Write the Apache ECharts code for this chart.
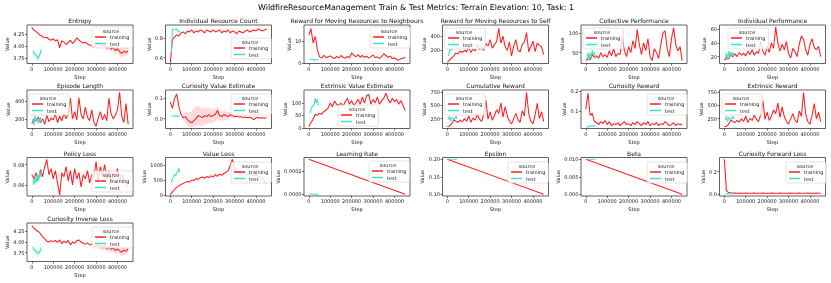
<!DOCTYPE html>
<html><head><meta charset="utf-8">
<script src="https://cdn.jsdelivr.net/npm/echarts@6/dist/echarts.min.js"></script>
<style>html,body{margin:0;padding:0;background:#fff}#c{width:831px;height:283px}#c svg{will-change:transform}</style>
</head><body><div id="c"></div>
<script>
// ---------- DATA ----------
const trainSteps = [0,10000,20000,30000,40000,50000,60000,70000,80000,90000,100000,110000,120000,130000,140000,150000,160000,170000,180000,190000,200000,210000,220000,230000,240000,250000,260000,270000,280000,290000,300000,310000,320000,330000,340000,350000,360000,370000,380000,390000,400000,410000,420000,430000,440000,450000];
const testSteps = [5000,10000,15000,20000,25000,30000,35000,40000,45000];
const scheduleSteps = [0,450000];

const entropyTrain = [4.39,4.33,4.30,4.26,4.22,4.20,4.17,4.18,4.14,4.12,4.15,4.10,4.13,3.96,4.11,4.08,4.03,4.07,4.12,4.05,4.10,4.17,4.12,4.09,4.06,4.08,4.04,4.02,4.00,3.97,4.04,4.06,4.02,3.99,4.01,3.95,3.98,3.93,3.97,3.90,3.94,3.88,3.84,3.89,3.86,3.90];
const entropyTest = [3.90,3.85,3.82,3.80,3.78,3.74,3.79,3.85,3.93];
const entropyBandSteps = [340000,350000,360000,370000,380000,390000,400000,410000,420000,430000,440000,450000];
const entropyBandLow = [3.98,3.91,3.93,3.87,3.90,3.82,3.86,3.79,3.75,3.80,3.77,3.83];
const entropyBandHigh = [4.04,3.99,4.03,3.99,4.04,3.98,4.02,3.97,3.94,3.98,3.95,3.97];
const entropyTestLow = [3.84,3.78,3.75,3.72,3.70,3.66,3.72,3.79,3.89];
const entropyTestHigh = [3.96,3.92,3.89,3.87,3.85,3.82,3.86,3.91,3.97];

const resourceCountTrain = [0.55,0.78,0.81,0.83,0.82,0.85,0.86,0.84,0.87,0.86,0.88,0.85,0.87,0.86,0.88,0.87,0.85,0.88,0.87,0.86,0.88,0.86,0.87,0.88,0.85,0.87,0.86,0.88,0.85,0.87,0.86,0.84,0.87,0.86,0.85,0.87,0.88,0.86,0.87,0.88,0.87,0.89,0.88,0.87,0.88,0.89];
const resourceCountTest = [0.66,0.89,0.89,0.89,0.88,0.89,0.87,0.86,0.87];

const neighboursTrain = [12.5,15.5,9.0,12.0,6.0,2.8,2.2,3.5,2.4,2.8,3.2,2.5,2.0,3.0,2.2,3.4,2.6,2.1,3.0,2.4,4.6,3.5,2.8,3.8,2.6,3.4,2.5,3.1,2.2,2.9,3.6,2.4,2.8,2.1,3.0,4.2,3.4,2.6,3.1,2.0,2.4,1.6,1.3,1.9,2.2,2.6];
const neighboursTest = [2.0,1.6,1.5,1.7,1.3,1.5,1.4,1.6,1.5];

const selfTrain = [30,60,90,120,160,150,190,170,200,180,250,170,220,190,280,210,240,200,300,260,350,230,280,320,510,300,400,250,200,320,120,260,350,200,180,280,320,450,180,250,330,180,300,270,250,140];
const selfTest = [120,180,240,200,250,440,230,260,220];

const collectiveTrain = [30,35,32,45,38,42,36,50,40,45,38,55,42,60,40,48,45,90,55,40,65,50,80,60,108,70,45,75,55,85,40,30,60,50,35,70,100,105,60,40,85,113,70,55,65,30];
const collectiveTest = [35,50,30,50,40,55,45,50,35];

const individualTrain = [15,18,17,22,20,24,20,26,22,25,21,28,23,30,22,27,25,42,28,22,35,26,40,32,63,40,28,38,30,42,24,18,32,27,20,38,50,45,30,22,38,46,33,30,35,20];
const individualTest = [18,25,15,28,20,27,22,26,20];

const episodeTrain = [150,200,180,220,160,200,140,240,170,210,190,250,160,230,180,260,200,260,430,200,280,190,435,250,200,330,220,180,300,160,120,210,280,190,250,180,430,260,200,240,300,495,230,160,370,140];
const episodeTest = [200,130,240,170,200,150,190,220,160];

const curValueTrain = [0.08,0.05,0.10,0.12,0.06,0.02,0.005,0.01,-0.005,-0.015,-0.02,-0.01,0.0,0.015,0.01,0.005,0.015,0.01,0.02,0.01,0.015,0.02,0.04,0.015,0.01,0.02,0.015,0.01,0.02,0.015,0.01,0.012,0.008,0.01,0.006,0.008,0.005,0.007,0.003,-0.005,0.004,0.006,0.002,0.005,0.003,0.004];
const curValueTest = [0.012,0.013,0.015,0.012,0.010,0.014,0.011,0.013,0.012];
const curValueBandSteps = [60000,70000,80000,90000,100000,110000,120000,130000,140000,150000,160000,170000,180000,190000,200000,210000,220000,230000,240000,250000,260000,270000,280000,290000,300000];
const curValueBandLow = [-0.01,-0.015,-0.035,-0.045,-0.04,-0.035,-0.04,-0.03,-0.035,-0.04,-0.03,-0.03,-0.02,-0.025,-0.02,-0.015,0.0,-0.01,-0.015,-0.005,-0.005,-0.01,0.005,0.005,0.005];
const curValueBandHigh = [0.02,0.035,0.03,0.03,0.035,0.05,0.06,0.065,0.055,0.05,0.06,0.05,0.055,0.045,0.05,0.05,0.06,0.04,0.035,0.04,0.035,0.03,0.035,0.025,0.015];

const extValueTrain = [5,20,35,55,50,58,55,65,72,80,100,85,108,95,90,100,88,105,120,95,110,90,100,115,95,125,100,130,135,95,115,100,125,95,110,120,140,115,100,120,105,115,95,110,90,70];
const extValueTest = [60,75,85,90,95,120,100,115,90];

const cumRewardTrain = [100,110,150,230,200,180,220,190,250,200,300,180,260,220,330,240,200,330,600,240,380,220,300,420,350,550,280,480,300,200,150,250,350,230,180,400,300,750,350,200,150,320,540,250,380,200];
const cumRewardTest = [230,300,200,280,250,240,260,300,240];

const curRewardTrain = [0.11,0.19,0.08,0.09,0.05,0.045,0.035,0.05,0.04,0.055,0.035,0.05,0.03,0.04,0.035,0.045,0.03,0.04,0.05,0.035,0.04,0.03,0.045,0.035,0.05,0.04,0.03,0.045,0.035,0.05,0.03,0.04,0.035,0.045,0.03,0.04,0.035,0.05,0.04,0.03,0.035,0.045,0.03,0.04,0.035,0.038];
const curRewardTest = [0.020,0.025,0.025,0.030,0.028,0.030,0.027,0.030,0.032];

const extRewardTrain = [95,105,145,225,195,175,215,185,245,195,295,175,255,215,325,235,195,325,595,235,375,215,295,415,345,545,275,475,295,195,145,245,345,225,175,395,295,745,345,195,145,315,535,245,375,195];
const extRewardTest = [225,295,195,275,245,235,255,295,235];

const policyTrain = [0.070,0.066,0.072,0.064,0.075,0.068,0.078,0.085,0.070,0.076,0.066,0.074,0.062,0.050,0.072,0.068,0.078,0.064,0.074,0.060,0.076,0.066,0.072,0.058,0.070,0.066,0.074,0.062,0.070,0.068,0.083,0.064,0.078,0.068,0.080,0.066,0.074,0.062,0.072,0.068,0.076,0.064,0.070,0.066,0.060,0.058];
const policyTest = [0.066,0.060,0.068,0.062,0.070,0.064,0.072,0.068,0.075];

const valueLossTrain = [0,100,180,250,300,350,380,420,450,430,500,480,550,520,580,600,560,620,580,640,600,680,620,700,660,720,760,820,1000,1200,900,800,750,700,780,720,680,750,700,650,680,620,600,560,450,400];
const valueLossTest = [400,550,600,700,650,750,800,900,750];

const lrTrain = [0.0003,0];
const lrTest = [0,0,0,0,0,0,0,0,0];
const epsTrain = [0.2,0.1];
const epsTest = [0.2,0.2,0.2,0.2,0.2,0.2,0.2,0.2,0.2];
const betaTrain = [0.01,0];
const betaTest = [0.01,0.01,0.01,0.01,0.01,0.01,0.01,0.01,0.01];

const fwdLossTrain = [0.31,0.03,0.015,0.012,0.011,0.010,0.009,0.010,0.008,0.009,0.010,0.008,0.009,0.008,0.010,0.009,0.008,0.009,0.010,0.008,0.009,0.008,0.010,0.009,0.008,0.009,0.010,0.008,0.009,0.008,0.009,0.010,0.008,0.009,0.008,0.010,0.009,0.008,0.009,0.010,0.008,0.009,0.008,0.010,0.009,0.008];
const fwdLossTest = [0.004,0.004,0.004,0.004,0.004,0.004,0.004,0.004,0.004];

const invLossTrain = [4.38,4.33,4.28,4.25,4.20,4.12,4.08,4.02,4.00,4.03,4.01,4.04,3.99,4.05,3.96,4.02,3.98,4.04,3.93,4.00,3.97,4.03,4.05,4.00,3.97,3.95,3.98,3.93,3.95,3.90,3.89,3.94,3.90,3.86,3.92,3.84,3.88,3.83,3.86,3.80,3.84,3.79,3.76,3.81,3.78,3.84];
const invLossTest = [3.88,3.82,3.80,3.78,3.75,3.73,3.76,3.80,3.85];
const invBandSteps = [290000,300000,310000,320000,330000,340000,350000,360000,370000,380000,390000,400000,410000,420000,430000,440000,450000];
const invBandLow = [3.87,3.85,3.88,3.84,3.79,3.85,3.76,3.80,3.74,3.78,3.71,3.75,3.70,3.66,3.72,3.69,3.77];
const invBandHigh = [3.93,3.93,3.98,3.95,3.92,3.97,3.91,3.95,3.90,3.93,3.88,3.92,3.87,3.85,3.89,3.86,3.90];
const invTestLow = [3.82,3.75,3.72,3.70,3.66,3.63,3.68,3.73,3.80];
const invTestHigh = [3.94,3.89,3.87,3.85,3.83,3.81,3.84,3.87,3.90];

// tick values / labels
const xTicks = [0,100000,200000,300000,400000];
const xTickLabels = ['0','100000','200000','300000','400000'];
const ticksEntropy = [3.75,4.00,4.25];      const labelsEntropy = ['3.75','4.00','4.25'];
const ticksCount = [0.6,0.8];               const labelsCount = ['0.6','0.8'];
const ticksNeigh = [0,10];                  const labelsNeigh = ['0','10'];
const ticksSelf = [200,400];                const labelsSelf = ['200','400'];
const ticksColl = [50,100];                 const labelsColl = ['50','100'];
const ticksInd = [20,40,60];                const labelsInd = ['20','40','60'];
const ticksEp = [200,400];                  const labelsEp = ['200','400'];
const ticksCurVal = [0.0,0.1];              const labelsCurVal = ['0.0','0.1'];
const ticksExtVal = [0,50,100];             const labelsExtVal = ['0','50','100'];
const ticksReward = [250,500,750];          const labelsReward = ['250','500','750'];
const ticksCurRew = [0.1,0.2];              const labelsCurRew = ['0.1','0.2'];
const ticksPolicy = [0.06,0.08];            const labelsPolicy = ['0.06','0.08'];
const ticksValue = [0,500,1000];            const labelsValue = ['0','500','1000'];
const ticksLr = [0,0.0002];                 const labelsLr = ['0.0000','0.0002'];
const ticksEps = [0.10,0.15,0.20];          const labelsEps = ['0.10','0.15','0.20'];
const ticksBeta = [0,0.005,0.010];          const labelsBeta = ['0.000','0.005','0.010'];
const ticksFwd = [0.0,0.2];                 const labelsFwd = ['0.0','0.2'];

// ---------- LAYOUT / STYLE ----------
const FONT = 'DejaVu Sans';
const RED = '#ff1e1e', TEAL = '#3fe0c5';
const RED_BAND = 'rgba(255,40,40,0.17)', TEAL_BAND = 'rgba(64,224,197,0.25)';
const rowTops = [25, 90, 157.5, 223];
const W = 106, H = 38.5;
const colLeft = c => 27 + c * 138.5;
const X_MIN = -22500, X_MAX = 472500;

const panels = [
 {title:'Entropy', tx:trainSteps, ty:entropyTrain, sy:entropyTest, y:[3.63,4.44], t:ticksEntropy, l:labelsEntropy, leg:[92,27],
  bands:[{x:entropyBandSteps, lo:entropyBandLow, hi:entropyBandHigh, c:RED_BAND},{x:testSteps, lo:entropyTestLow, hi:entropyTestHigh, c:TEAL_BAND}]},
 {title:'Individual Resource Count', tx:trainSteps, ty:resourceCountTrain, sy:resourceCountTest, y:[0.542,0.93], t:ticksCount, l:labelsCount, leg:[231,38]},
 {title:'Reward for Moving Resources to Neighbours', tx:trainSteps, ty:neighboursTrain, sy:neighboursTest, y:[-0.2,17.1], t:ticksNeigh, l:labelsNeigh, leg:[370,27]},
 {title:'Reward for Moving Resources to Self', tx:trainSteps, ty:selfTrain, sy:selfTest, y:[14,557], t:ticksSelf, l:labelsSelf, leg:[445,28]},
 {title:'Collective Performance', tx:trainSteps, ty:collectiveTrain, sy:collectiveTest, y:[22.7,119.6], t:ticksColl, l:labelsColl, leg:[583,28]},
 {title:'Individual Performance', tx:trainSteps, ty:individualTrain, sy:individualTest, y:[10,66], t:ticksInd, l:labelsInd, leg:[728,28]},
 {title:'Episode Length', tx:trainSteps, ty:episodeTrain, sy:episodeTest, y:[94,520], t:ticksEp, l:labelsEp, leg:[29,94]},
 {title:'Curiosity Value Estimate', tx:trainSteps, ty:curValueTrain, sy:curValueTest, y:[-0.048,0.14], t:ticksCurVal, l:labelsCurVal, leg:[231,94],
  bands:[{x:curValueBandSteps, lo:curValueBandLow, hi:curValueBandHigh, c:RED_BAND}]},
 {title:'Extrinsic Value Estimate', tx:trainSteps, ty:extValueTrain, sy:extValueTest, y:[-3,153], t:ticksExtVal, l:labelsExtVal, leg:[338,105]},
 {title:'Cumulative Reward', tx:trainSteps, ty:cumRewardTrain, sy:cumRewardTest, y:[63,793], t:ticksReward, l:labelsReward, leg:[445,94]},
 {title:'Curiosity Reward', tx:trainSteps, ty:curRewardTrain, sy:curRewardTest, y:[0.016,0.205], t:ticksCurRew, l:labelsCurRew, leg:[647,94]},
 {title:'Extrinsic Reward', tx:trainSteps, ty:extRewardTrain, sy:extRewardTest, y:[63,793], t:ticksReward, l:labelsReward, leg:[722,94]},
 {title:'Policy Loss', tx:trainSteps, ty:policyTrain, sy:policyTest, y:[0.049,0.087], t:ticksPolicy, l:labelsPolicy, leg:[92,171]},
 {title:'Value Loss', tx:trainSteps, ty:valueLossTrain, sy:valueLossTest, y:[-40,1260], t:ticksValue, l:labelsValue, leg:[231,162]},
 {title:'Learning Rate', tx:scheduleSteps, ty:lrTrain, sy:lrTest, y:[-0.000015,0.000315], t:ticksLr, l:labelsLr, leg:[369,161]},
 {title:'Epsilon', tx:scheduleSteps, ty:epsTrain, sy:epsTest, y:[0.095,0.205], t:ticksEps, l:labelsEps, leg:[508,162]},
 {title:'Beta', tx:scheduleSteps, ty:betaTrain, sy:betaTest, y:[-0.0005,0.0105], t:ticksBeta, l:labelsBeta, leg:[647,162]},
 {title:'Curiosity Forward Loss', tx:trainSteps, ty:fwdLossTrain, sy:fwdLossTest, y:[-0.0155,0.3255], t:ticksFwd, l:labelsFwd, leg:[786,162]},
 {title:'Curiosity Inverse Loss', tx:trainSteps, ty:invLossTrain, sy:invLossTest, y:[3.54,4.45], t:ticksEntropy, l:labelsEntropy, leg:[92,227],
  bands:[{x:invBandSteps, lo:invBandLow, hi:invBandHigh, c:RED_BAND},{x:testSteps, lo:invTestLow, hi:invTestHigh, c:TEAL_BAND}]}
];

const zip = (xs, ys) => xs.map((x, i) => [x, ys[i]]);
const nearestLabel = (ticks, labels, v) => {
  let bi = 0, bd = Infinity;
  ticks.forEach((t, i) => { const d = Math.abs(t - v); if (d < bd) { bd = d; bi = i; } });
  return labels[bi];
};
const ctx = document.createElement('canvas').getContext('2d');
const TICK_FS = 5;
ctx.font = TICK_FS + 'px "' + FONT + '"';
const textW = s => ctx.measureText(s).width;

const grids = [], xAxes = [], yAxes = [], series = [], legends = [], graphics = [];
graphics.push({type:'text', x:416, y:7.5, style:{text:'WildfireResourceManagement Train & Test Metrics: Terrain Elevation: 10, Task: 1', font:'7.9px "' + FONT + '"', fill:'#000', textAlign:'center', textVerticalAlign:'middle'}});

panels.forEach((p, i) => {
  const col = i % 6, row = Math.floor(i / 6);
  const left = colLeft(col), top = rowTops[row];
  grids.push({left, top, width:W, height:H, show:true, borderColor:'#3a3a3a', borderWidth:0.8, backgroundColor:'#fff', outerBoundsMode:'none'});
  const axisCommon = {
    axisLine:{show:false, onZero:false},
    splitLine:{show:false},
    nameTextStyle:{fontSize:5, color:'#111', fontFamily:FONT},
  };
  xAxes.push(Object.assign({}, axisCommon, {
    type:'value', gridIndex:i, min:X_MIN, max:X_MAX, name:'Step', nameLocation:'middle', nameGap:10.5,
    axisTick:{show:true, length:2, lineStyle:{color:'#3a3a3a', width:0.7}, customValues:xTicks},
    axisLabel:{fontSize:TICK_FS, margin:2.5, color:'#222', fontFamily:FONT, customValues:xTicks,
      formatter:v => nearestLabel(xTicks, xTickLabels, v)}
  }));
  const maxLab = Math.max(...p.l.map(textW));
  yAxes.push(Object.assign({}, axisCommon, {
    type:'value', gridIndex:i, min:p.y[0], max:p.y[1], name:'Value', nameLocation:'middle', nameGap:maxLab + 6.5,
    axisTick:{show:true, length:2, lineStyle:{color:'#3a3a3a', width:0.7}, customValues:p.t},
    axisLabel:{fontSize:TICK_FS, margin:2.5, color:'#222', fontFamily:FONT, customValues:p.t,
      formatter:v => nearestLabel(p.t, p.l, v)}
  }));
  (p.bands || []).forEach(b => {
    series.push({type:'custom', name:'band', xAxisIndex:i, yAxisIndex:i, silent:true, z:1, clip:true,
      data:[[b.x[0], b.lo[0]]],
      renderItem:(params, api) => {
        const pts = [];
        b.x.forEach((x, j) => pts.push(api.coord([x, b.hi[j]])));
        for (let j = b.x.length - 1; j >= 0; j--) pts.push(api.coord([b.x[j], b.lo[j]]));
        return {type:'polygon', shape:{points:pts}, style:{fill:b.c, stroke:null}};
      }});
  });
  series.push({type:'line', name:'training', xAxisIndex:i, yAxisIndex:i, symbol:'none', color:RED,
    lineStyle:{color:RED, width:1.05}, data:zip(p.tx, p.ty), z:2});
  series.push({type:'line', name:'test', xAxisIndex:i, yAxisIndex:i, symbol:'none', color:TEAL,
    lineStyle:{color:TEAL, width:1.05}, data:zip(testSteps, p.sy), z:3});
  graphics.push({type:'text', x:left + W / 2, y:top - 4.3, style:{text:p.title, font:'6px "' + FONT + '"', fill:'#111', textAlign:'center', textVerticalAlign:'middle'}});
  legends.push({data:[{name:'training', icon:'rect'},{name:'test', icon:'rect'}], left:p.leg[0], top:p.leg[1], orient:'vertical', padding:[7.5,3,2,3], itemGap:1.5,
    itemWidth:11, itemHeight:1.5, textStyle:{fontSize:5, color:'#222', fontFamily:FONT, padding:[0,0,0,-1]},
    borderColor:'#d0d0d0', borderWidth:0.6, borderRadius:1.5, backgroundColor:'rgba(255,255,255,0.8)', selectedMode:false, z:10});
  graphics.push({type:'text', x:p.leg[0] + 19, y:p.leg[1] + 4.2, z:20, style:{text:'source', font:'5px "' + FONT + '"', fill:'#222', textAlign:'center', textVerticalAlign:'middle'}});
});

const chart = echarts.init(document.getElementById('c'), null, {renderer:'svg', width:831, height:283});
chart.setOption({
  animation:false,
  backgroundColor:'#fff',
  textStyle:{fontFamily:FONT},
  grid:grids, xAxis:xAxes, yAxis:yAxes, series, legend:legends,
  graphic:{elements:graphics}
});
</script></body></html>
